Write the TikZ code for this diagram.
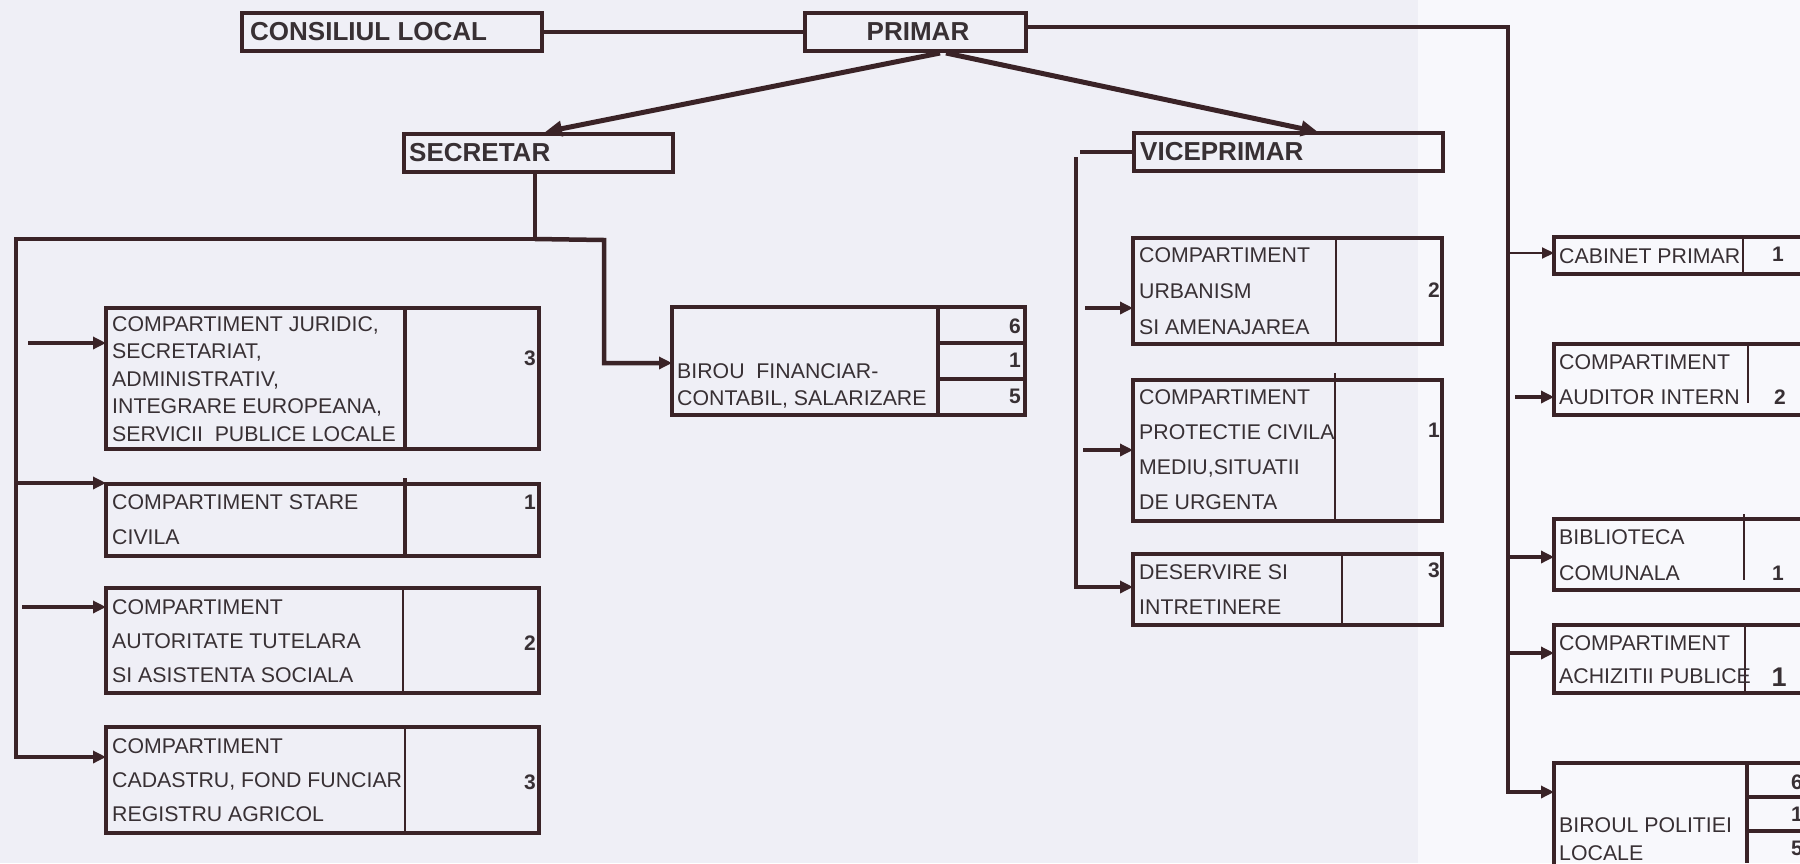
\documentclass[tikz,border=0pt]{standalone}
\usepackage{fontspec}
\setmainfont{Liberation Sans}
\usetikzlibrary{arrows.meta}
\definecolor{lc}{HTML}{3A2327}
\definecolor{tc}{HTML}{383034}
\definecolor{bgA}{HTML}{EFEFF6}
\definecolor{bgB}{HTML}{F8F8FC}
\tikzset{
  box/.style={draw=lc, line width=4.5pt, inner sep=0pt, outer sep=0pt, anchor=north west},
  ttl/.style={font=\fontsize{26}{30}\selectfont\bfseries, text=tc, inner sep=0pt},
  body/.style={font=\fontsize{21.3}{35}\selectfont, text=tc, inner sep=0pt, align=left, anchor=west},
  tight/.style={font=\fontsize{21.3}{27.5}\selectfont},
  num/.style={font=\fontsize{21}{25}\selectfont\bfseries, text=tc, inner sep=0pt},
  conn/.style={draw=lc, line width=4.5pt},
  divthick/.style={draw=lc, line width=4.5pt},
  divthin/.style={draw=lc, line width=2.2pt},
  arr/.style={draw=lc, line width=3.5pt, -{Triangle[length=13pt,width=12pt]}},
  arrthin/.style={draw=lc, line width=2pt, -{Triangle[length=12pt,width=11pt]}},
  bigarr/.style={draw=lc, line width=5pt, -{Triangle[length=17pt,width=15pt]}},
}
\begin{document}
\begin{tikzpicture}[x=1pt,y=-1pt]
\useasboundingbox (0,0) rectangle (1800,863);
\clip (0,0) rectangle (1800,863);
\fill[bgA] (0,0) rectangle (1418,863);
\fill[bgB] (1418,0) rectangle (1800,863);

% ---------- top level ----------
\node[box, minimum width=300pt, minimum height=38pt] (cons) at (242,13) {};
\node[ttl, anchor=west] (consT) at (250,32) {CONSILIUL LOCAL};
\node[box, minimum width=221pt, minimum height=38pt] (prim) at (805,13) {};
\node[ttl] (primT) at (918,32) {PRIMAR};
\node[box, minimum width=269pt, minimum height=38pt] (sec) at (404,134) {};
\node[ttl, anchor=west] (secT) at (409,153) {SECRETAR};
\node[box, minimum width=309pt, minimum height=38pt] (vice) at (1134,133) {};
\node[ttl, anchor=west] (viceT) at (1140,152) {VICEPRIMAR};

% ---------- left column ----------
\node[box, minimum width=433pt, minimum height=141pt] (jur) at (106,308) {};
\draw[divthick] (405,308) -- (405,449);
\node[body, tight] (jurT) at (112,379) {COMPARTIMENT JURIDIC,\\SECRETARIAT,\\ADMINISTRATIV,\\INTEGRARE EUROPEANA,\\SERVICII\ \ PUBLICE LOCALE};
\node[num, anchor=east] (jurN) at (536,358) {3};

\node[box, minimum width=433pt, minimum height=72pt] (sta) at (106,484) {};
\draw[divthick] (405,478) -- (405,556);
\node[body] (staT) at (112,520) {COMPARTIMENT STARE\\CIVILA};
\node[num, anchor=east] (staN) at (536,502) {1};

\node[box, minimum width=433pt, minimum height=105pt] (aut) at (106,588) {};
\draw[divthin] (403,588) -- (403,693);
\node[body, font=\fontsize{21.3}{34}\selectfont] (autT) at (112,641) {COMPARTIMENT\\AUTORITATE TUTELARA\\SI ASISTENTA SOCIALA};
\node[num, anchor=east] (autN) at (536,643) {2};

\node[box, minimum width=433pt, minimum height=106pt] (cad) at (106,727) {};
\draw[divthin] (405,727) -- (405,833);
\node[body, font=\fontsize{21.3}{34}\selectfont] (cadT) at (112,780) {COMPARTIMENT\\CADASTRU, FOND FUNCIAR\\REGISTRU AGRICOL};
\node[num, anchor=east] (cadN) at (536,782) {3};

% ---------- birou financiar ----------
\node[box, minimum width=353pt, minimum height=108pt] (bir) at (672,307) {};
\draw[divthick] (938,307) -- (938,415);
\draw[divthick] (938,343) -- (1025,343);
\draw[divthick] (938,379) -- (1025,379);
\node[body, tight] (birT) at (677,386) {BIROU\ \ FINANCIAR-\\CONTABIL, SALARIZARE};
\node[num, anchor=east] (birN1) at (1021,326) {6};
\node[num, anchor=east] (birN2) at (1021,360) {1};
\node[num, anchor=east] (birN3) at (1021,396) {5};

% ---------- viceprimar column ----------
\node[box, minimum width=309pt, minimum height=106pt] (urb) at (1133,238) {};
\draw[divthin] (1336,238) -- (1336,344);
\node[body, font=\fontsize{21.3}{36}\selectfont] (urbT) at (1139,291) {COMPARTIMENT\\URBANISM\\SI AMENAJAREA};
\node[num, anchor=east] (urbN) at (1440,290) {2};

\node[box, minimum width=309pt, minimum height=141pt] (pro) at (1133,380) {};
\draw[divthin] (1335,373) -- (1335,521);
\begin{scope}
\clip (1133,380) rectangle (1334,521);
\node[body] (proT) at (1139,450) {COMPARTIMENT\\PROTECTIE CIVILA\\MEDIU,SITUATII\\DE URGENTA};
\end{scope}
\node[num, anchor=east] (proN) at (1440,430) {1};

\node[box, minimum width=309pt, minimum height=71pt] (des) at (1133,554) {};
\draw[divthin] (1342,554) -- (1342,625);
\node[body] (desT) at (1139,590) {DESERVIRE SI\\INTRETINERE};
\node[num, anchor=east] (desN) at (1440,570) {3};

% ---------- right column ----------
\node[box, minimum width=290pt, minimum height=37pt] (cab) at (1554,237) {};
\draw[divthin] (1743,237) -- (1743,274);
\node[body] (cabT) at (1559,256) {CABINET PRIMAR};
\node[num] (cabN) at (1778,254) {1};

\node[box, minimum width=290pt, minimum height=71pt] (aud) at (1554,344) {};
\draw[divthin] (1748,344) -- (1748,403);
\node[body] (audT) at (1559,380) {COMPARTIMENT\\AUDITOR INTERN};
\node[num] (audN) at (1780,397) {2};

\node[box, minimum width=290pt, minimum height=71pt] (bib) at (1554,519) {};
\draw[divthin] (1744,514) -- (1744,580);
\node[body, font=\fontsize{21.3}{36}\selectfont] (bibT) at (1559,555) {BIBLIOTECA\\COMUNALA};
\node[num] (bibN) at (1778,573) {1};

\node[box, minimum width=290pt, minimum height=68pt] (ach) at (1554,625) {};
\draw[divthin] (1745,625) -- (1745,693);
\node[body, font=\fontsize{21.3}{33}\selectfont] (achT) at (1559,660) {COMPARTIMENT\\ACHIZITII PUBLICE};
\node[num, font=\fontsize{27}{30}\selectfont\bfseries] (achN) at (1779,677) {1};

\node[box, minimum width=290pt, minimum height=140pt] (pol) at (1554,763) {};
\draw[divthick] (1747,763) -- (1747,863);
\draw[divthick] (1747,797) -- (1800,797);
\draw[divthick] (1747,831) -- (1800,831);
\node[body, tight] (polT) at (1559,839) {BIROUL POLITIEI\\LOCALE};
\node[num, anchor=west] (polN1) at (1791,782) {6};
\node[num, anchor=west] (polN2) at (1791,814) {1};
\node[num, anchor=west] (polN3) at (1791,848) {5};

% ---------- connector points ----------
\coordinate (pO1) at (940,53);
\coordinate (pO2) at (946,53);
\coordinate (secIn) at (545,132);
\coordinate (viceIn) at (1318,132);
\coordinate (pR) at (1026,27);
\coordinate (rTop) at (1508,27);
\coordinate (rBot) at (1508,792);
\coordinate (polIn) at (1554,792);
\coordinate (secOut) at (535,172);
\coordinate (secBus) at (535,239);
\coordinate (lTop) at (16,239);
\coordinate (lBot) at (16,757);
\coordinate (cadIn) at (106,757);
\coordinate (fTop) at (604,240);
\coordinate (fBot) at (604,363);
\coordinate (birIn) at (672,363);
\coordinate (vStub) at (1080,152);
\coordinate (vTop) at (1076,157);
\coordinate (vBot) at (1076,587);
\coordinate (desIn) at (1133,587);

% ---------- connectors ----------
\draw[conn] (cons.east) -- (prim.west);
\draw[conn, -{Triangle[length=13pt,width=12pt]}] (pR) -- (rTop) -- (rBot) -- (polIn);
\draw[bigarr] (pO1) -- (secIn);
\draw[bigarr] (pO2) -- (viceIn);

\draw[conn] (secOut) -- (secBus);
\draw[conn, -{Triangle[length=13pt,width=12pt]}] (secBus) -- (lTop) -- (lBot) -- (cadIn);
\draw[conn, -{Triangle[length=13pt,width=12pt]}] (secBus) -- (fTop) -- (fBot) -- (birIn);

\coordinate (jurFrom) at (28,343);   \coordinate (jurIn) at (106,343);
\coordinate (staFrom) at (16,483);   \coordinate (staIn) at (106,483);
\coordinate (autFrom) at (22,607);   \coordinate (autIn) at (106,607);
\draw[arr] (jurFrom) -- (jurIn);
\draw[arr] (staFrom) -- (staIn);
\draw[arr] (autFrom) -- (autIn);

\draw[conn] (vice.west) -- (vStub);
\draw[conn, -{Triangle[length=13pt,width=12pt]}] (vTop) -- (vBot) -- (desIn);
\coordinate (urbFrom) at (1085,308); \coordinate (urbIn) at (1133,308);
\coordinate (proFrom) at (1083,450); \coordinate (proIn) at (1133,450);
\draw[arr] (urbFrom) -- (urbIn);
\draw[arr] (proFrom) -- (proIn);

\coordinate (cabFrom) at (1508,253); \coordinate (cabIn) at (1554,253);
\coordinate (audFrom) at (1515,397); \coordinate (audIn) at (1554,397);
\coordinate (bibFrom) at (1508,557); \coordinate (bibIn) at (1554,557);
\coordinate (achFrom) at (1508,653); \coordinate (achIn) at (1554,653);
\draw[arrthin] (cabFrom) -- (cabIn);
\draw[arr] (audFrom) -- (audIn);
\draw[arr] (bibFrom) -- (bibIn);
\draw[arr] (achFrom) -- (achIn);
\end{tikzpicture}
\end{document}
